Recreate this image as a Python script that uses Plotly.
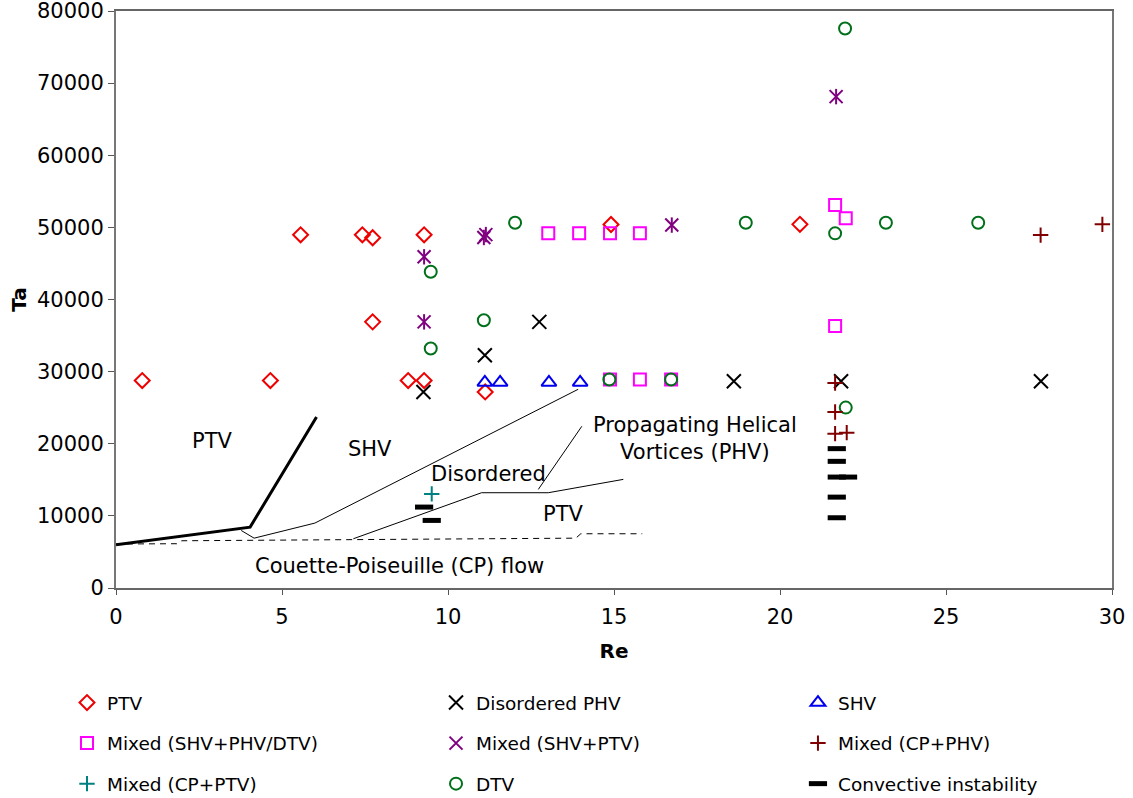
import plotly.graph_objects as go

# ---------------- data ----------------
ptv_re = [0.79, 4.65, 5.56, 7.42, 7.73, 9.28, 7.73, 8.80, 9.28, 11.12, 14.91, 20.60]
ptv_ta = [28760, 28760, 48970, 48970, 48560, 48970, 36900, 28760, 28760, 27180, 50400, 50420]

dphv_re = [9.26, 11.11, 12.75, 18.61, 21.84, 27.86]
dphv_ta = [27180, 32270, 36900, 28660, 28660, 28660]

shv_re = [11.11, 11.57, 13.04, 13.98]
shv_ta = [28500, 28500, 28500, 28500]

mix1_re = [13.02, 13.95, 14.88, 15.78, 14.88, 15.78, 16.72, 21.66, 21.98, 21.66]
mix1_ta = [49170, 49170, 49170, 49170, 28900, 28900, 28900, 53100, 51250, 36340]

mix2_re = [9.28, 9.28, 11.08, 11.14, 16.74, 21.69]
mix2_ta = [45920, 36900, 48600, 49000, 50320, 68130]

mix3_re = [27.85, 29.71, 21.66, 21.66, 21.66, 22.01]
mix3_ta = [48930, 50420, 28430, 24400, 21400, 21540]

mix4_re = [9.51]
mix4_ta = [13050]

dtv_re = [9.48, 9.48, 11.08, 12.02, 14.86, 16.72, 18.97, 21.96, 21.66, 23.19, 25.97, 21.98]
dtv_ta = [43840, 33200, 37130, 50640, 28900, 28900, 50640, 77570, 49170, 50640, 50640, 25010]

conv_re = [9.28, 9.51, 21.71, 21.71, 21.71, 22.05, 21.71, 21.71]
conv_ta = [11220, 9370, 19320, 17560, 15380, 15380, 12600, 9740]

# boundary lines
thick_re = [0.0, 4.04, 6.04]
thick_ta = [6000, 8440, 23710]
thin1_re = [3.77, 4.16, 5.99, 13.92]
thin1_ta = [7980, 6910, 9000, 27550]
thin2_re = [7.15, 11.01, 13.02, 15.28]
thin2_ta = [6830, 13210, 13210, 15060]
pointer_re = [12.72, 14.03]
pointer_ta = [13670, 22420]
dashed_re = [0.0, 1.83, 1.98, 13.85, 14.0, 15.85]
dashed_ta = [6100, 6140, 6550, 6910, 7520, 7520]

region_labels = ["PTV", "SHV", "Disordered", "Propagating Helical<br>Vortices (PHV)", "PTV",
                 "Couette-Poiseuille (CP) flow"]
region_re = [2.89, 7.65, 11.23, 17.44, 13.46, 8.54]
region_ta = [20340, 19230, 15750, 20680, 10200, 3120]

x_ticks = [0, 5, 10, 15, 20, 25, 30]
y_ticks = [0, 10000, 20000, 30000, 40000, 50000, 60000, 70000, 80000]

FONT = "DejaVu Sans"

fig = go.Figure()

# lines
for xs, ys, w, d in [(thick_re, thick_ta, 3, "solid"),
                     (thin1_re, thin1_ta, 1, "solid"),
                     (thin2_re, thin2_ta, 1, "solid"),
                     (pointer_re, pointer_ta, 1, "solid"),
                     (dashed_re, dashed_ta, 1, "6px,5px")]:
    fig.add_trace(go.Scatter(x=xs, y=ys, mode="lines", showlegend=False, hoverinfo="skip",
                             line=dict(color="black", width=w, dash=d)))

def pts(x, y, name, symbol, color, size, lw, legend, group, showlegend=True):
    fig.add_trace(go.Scatter(x=x, y=y, mode="markers", name=name, legend=legend,
                             legendgroup=group, showlegend=showlegend,
                             marker=dict(symbol=symbol, size=size, color=color,
                                         line=dict(color=color, width=lw))))

# column 1
pts(ptv_re, ptv_ta, "PTV", "diamond-open", "#EE0000", 11.5, 2, "legend", "g1")
pts(mix1_re, mix1_ta, "Mixed (SHV+PHV/DTV)", "square-open", "#FF00FF", 12, 2, "legend", "g4")
pts(mix4_re, mix4_ta, "Mixed (CP+PTV)", "cross-thin-open", "#008080", 11, 2, "legend", "g7")
# column 2
pts(dphv_re, dphv_ta, "Disordered PHV", "x-thin-open", "black", 14, 2, "legend2", "g2")
pts(mix2_re, mix2_ta, "Mixed (SHV+PTV)", "x-thin-open", "#800080", 13, 2, "legend2", "g5")
pts(dtv_re, dtv_ta, "DTV", "circle-open", "#00701A", 12, 2, "legend2", "g8")
# column 3
pts(shv_re, shv_ta, "SHV", "triangle-up-open", "#0000EE", 13, 2, "legend3", "g3")
pts(mix3_re, mix3_ta, "Mixed (CP+PHV)", "cross-thin-open", "#800000", 11, 2, "legend3", "g6")
pts(conv_re, conv_ta, "Convective instability", "line-ew-open", "black", 13, 5, "legend3", "g9")
# vertical stroke of the purple asterisks
pts(mix2_re, mix2_ta, "Mixed (SHV+PTV)", "line-ns-open", "#800080", 11, 2, "legend2", "g5",
    showlegend=False)

for t, x, y in zip(region_labels, region_re, region_ta):
    fig.add_annotation(x=x, y=y, text=t, showarrow=False, xanchor="center", yanchor="middle",
                       font=dict(family=FONT, size=21, color="black"))

leg_common = dict(orientation="v", xanchor="left", yanchor="top", y=-0.1664,
                  tracegroupgap=13.5, bgcolor="rgba(0,0,0,0)",
                  font=dict(family=FONT, size=18.5, color="black"), itemclick=False)

fig.update_layout(
    width=1133, height=798,
    margin=dict(l=116, r=21, t=11, b=210, autoexpand=False),
    paper_bgcolor="white", plot_bgcolor="white",
    font=dict(family=FONT, size=20, color="black"),
    legend=dict(x=-0.0492, **leg_common),
    legend2=dict(x=0.3213, **leg_common),
    legend3=dict(x=0.6847, **leg_common),
    xaxis=dict(range=[0, 30], tickvals=x_ticks, ticks="outside", ticklen=5, tickcolor="#555555",
               showline=True, linecolor="#666666", linewidth=2, mirror=True, showgrid=False,
               zeroline=False, ticklabelstandoff=4, automargin=False, ticklabeloverflow="allow",
               tickfont=dict(family=FONT, size=21),
               title=dict(text="<b>Re</b>", font=dict(family=FONT, size=20), standoff=16)),
    yaxis=dict(range=[0, 80000], tickvals=y_ticks, tickformat="d", ticks="outside", ticklen=6,
               tickcolor="#555555", showline=True, linecolor="#777777", linewidth=2, mirror=True,
               showgrid=False, zeroline=False, automargin=False, ticklabeloverflow="allow",
               tickfont=dict(family=FONT, size=21),
               title=dict(text="<b>Ta</b>", font=dict(family=FONT, size=20), standoff=5)),
)

fig.write_html("out.html", config={"displayModeBar": False},
               post_script="document.body.style.margin='0px';")
